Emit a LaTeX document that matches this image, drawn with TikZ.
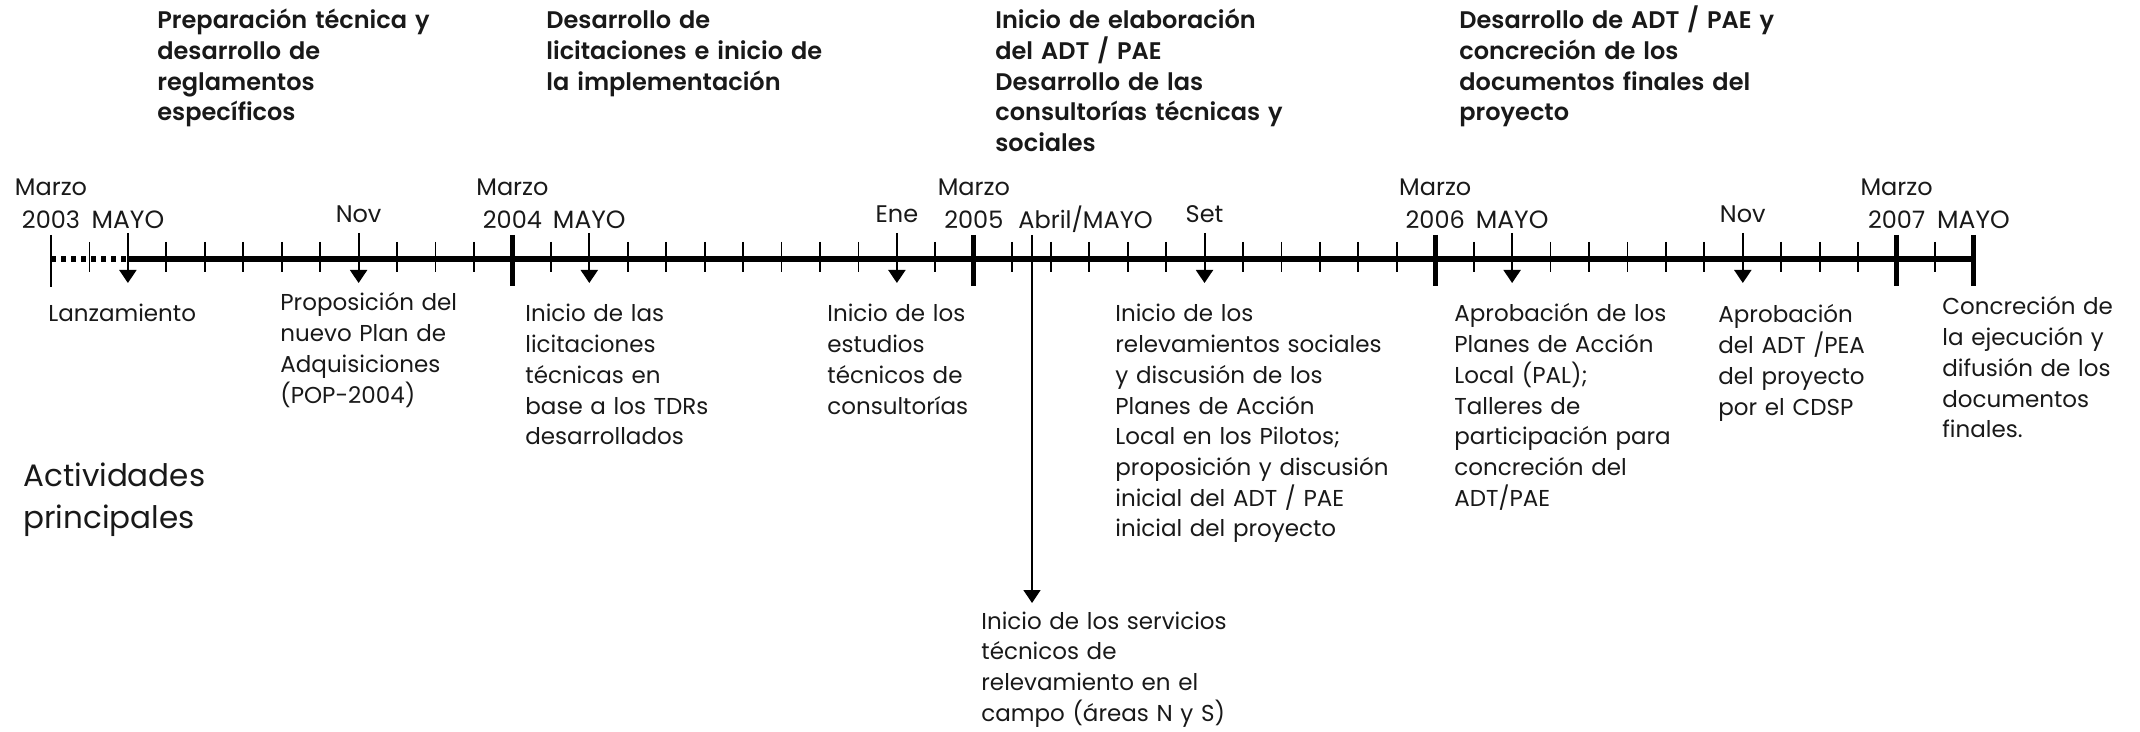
\documentclass[tikz,border=0pt]{standalone}
\usepackage{fontspec}
\setmainfont{Poppins}
\newfontfamily\etapafont{Poppins SemiBold}
\usetikzlibrary{arrows.meta}

\newcommand{\mesx}[1]{51+38.45*#1}

\begin{document}
\begin{tikzpicture}[x=0.5pt, y=-0.5pt, >={Triangle[width=8.5pt,length=6.5pt]}, inner sep=0pt, text=black!90]
		\tikzstyle{etapa}=[anchor=base west, text width=200pt, align=left, font=\fontsize{12}{15.3}\selectfont\etapafont]
		\tikzstyle{hito}=[anchor=base west, text width=200pt, align=left, font=\fontsize{11.5}{15.35}\selectfont]
		\tikzstyle{fecha}=[anchor=base, text width=50pt, align=center, font=\fontsize{12}{16.5}\selectfont]
		\tikzstyle{mes}=[anchor=base, font=\fontsize{12}{14}\selectfont]
		\tikzstyle{mayo}=[mes, font=\fontsize{12.5}{14}\selectfont]
		\tikzstyle{marca}=[line width=0.9pt]
		\tikzstyle{anio}=[line width=2.5pt]
		\useasboundingbox (0,0) rectangle (2140,732);
		% etapas
		\node[etapa] (prep)  at (157,29)  {Preparación técnica y\\desarrollo de\\reglamentos\\específicos};
		\node[etapa] (desa)  at (546,29)  {Desarrollo de\\licitaciones e inicio de\\la implementación};
		\node[etapa] (elab)  at (995,29)  {Inicio de elaboración\\del ADT / PAE\\Desarrollo de las\\consultorías técnicas y\\sociales};
		\node[etapa] (concl) at (1459,29) {Desarrollo de ADT / PAE y\\concreción de los\\documentos finales del\\proyecto};
		% fechas
		\node[fecha] (mar03) at ({\mesx{0}},196)  {Marzo\\2003};
		\node[fecha] (mar04) at ({\mesx{12}},196) {Marzo\\2004};
		\node[fecha] (mar05) at ({\mesx{24}},196) {Marzo\\2005};
		\node[fecha] (mar06) at ({\mesx{36}},196) {Marzo\\2006};
		\node[fecha] (mar07) at ({\mesx{48}},196) {Marzo\\2007};
		\node[mayo] (may03) at ({\mesx{2}},229)  {MAYO};
		\node[mes] (nov03) at ({\mesx{8}},223)  {Nov};
		\node[mayo] (may04) at ({\mesx{14}},229) {MAYO};
		\node[mes] (ene05) at ({\mesx{22}},223) {Ene};
		\node[mes, anchor=base west] (abr05) at (1018,229) {Abril/MAYO};
		\node[mes] (set05) at ({\mesx{30}},223) {Set};
		\node[mayo] (may06) at ({\mesx{38}},229) {MAYO};
		\node[mes] (nov06) at ({\mesx{44}},223) {Nov};
		\node[mayo] (may07) at ({\mesx{50}},229) {MAYO};
		% linea de tiempo
		\coordinate (ini) at ({\mesx{0}},259);
		\coordinate (lanz0) at ({\mesx{2}},259);
		\coordinate (fin) at ({\mesx{50}},259);
		\draw[line width=2.8pt, dash pattern=on 2.5pt off 2.5pt] (ini) -- (lanz0);
		\draw[line width=2.8pt] (lanz0) -- (fin);
		\foreach \i in {1,...,49}
			\draw[marca] ({\mesx{\i}},242) -- ({\mesx{\i}},272);
		\draw[marca] ({\mesx{0}},235) -- ({\mesx{0}},287);
		\foreach \i in {12,24,36,48,50}
			\draw[anio] ({\mesx{\i}},235) -- ({\mesx{\i}},286);
		\foreach \i in {2,8,14,22,30,38,44}{
			\coordinate (t\i) at ({\mesx{\i}},233);
			\coordinate (b\i) at ({\mesx{\i}},283);
			\draw[->, line width=1pt] (t\i) -- (b\i);
		}
		% hitos
		\node[hito] (lanz)  at (48,322)   {Lanzamiento};
		\node[hito] (plan)  at (280,311)  {Proposición del\\nuevo Plan de\\Adquisiciones\\(POP-2004)};
		\node[hito] (licit) at (525,322)  {Inicio de las\\licitaciones\\técnicas en\\base a los TDRs\\desarrollados};
		\node[hito] (estud) at (827,322)  {Inicio de los\\estudios\\técnicos de\\consultorías};
		\node[hito] (relev) at (1115,322) {Inicio de los\\relevamientos sociales\\y discusión de los\\Planes de Acción\\Local en los Pilotos;\\proposición y discusión\\inicial del ADT / PAE\\inicial del proyecto};
		\node[hito] (pal)   at (1454,322) {Aprobación de los\\Planes de Acción\\Local (PAL);\\Talleres de\\participación para\\concreción del\\ADT/PAE};
		\node[hito] (adt)   at (1718,323) {Aprobación\\del ADT /PEA\\del proyecto\\por el CDSP};
		\node[hito] (concr) at (1942,315) {Concreción de\\la ejecución y\\difusión de los\\documentos\\finales.};
		\node[hito, font=\fontsize{15.5}{21}\selectfont] (activ) at (23,486) {Actividades\\principales};
		\node[hito] (serv)  at (981,629)  {Inicio de los servicios\\técnicos de\\relevamiento en el\\campo (áreas N y S)};
		\coordinate (abr0) at (1032,235);
		\coordinate (abr1) at (1032,603);
		\draw[->, line width=0.8pt] (abr0) -- (abr1);
	\end{tikzpicture}
\end{document}
